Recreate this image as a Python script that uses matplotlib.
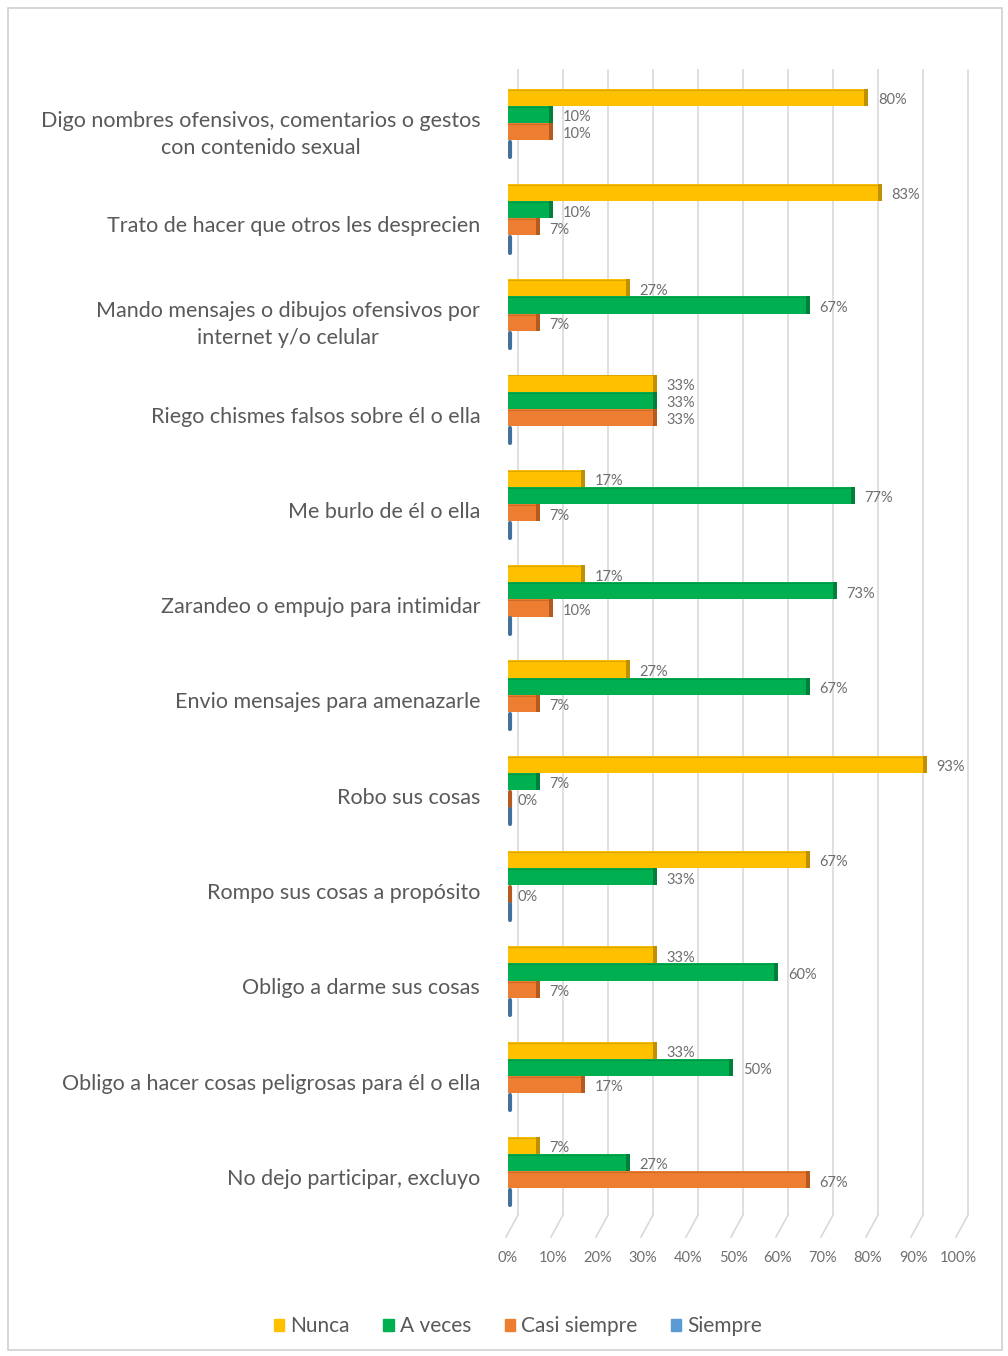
import matplotlib
matplotlib.use("Agg")
import matplotlib.pyplot as plt
import matplotlib.transforms as mtransforms
from matplotlib.patches import Rectangle
import numpy as np

categories = [
    "Digo nombres ofensivos, comentarios o gestos\ncon contenido sexual",
    "Trato de hacer que otros les desprecien",
    "Mando mensajes o dibujos ofensivos por\ninternet y/o celular",
    "Riego chismes falsos sobre él o ella",
    "Me burlo de él o ella",
    "Zarandeo o empujo para intimidar",
    "Envio mensajes para amenazarle",
    "Robo sus cosas",
    "Rompo sus cosas a propósito",
    "Obligo a darme sus cosas",
    "Obligo a hacer cosas peligrosas para él o ella",
    "No dejo participar, excluyo",
]
series_names = ["Nunca", "A veces", "Casi siempre", "Siempre"]
nunca = [80, 83, 27, 33, 17, 17, 27, 93, 67, 33, 33, 7]
a_veces = [10, 10, 67, 33, 77, 73, 67, 7, 33, 60, 50, 27]
casi_siempre = [10, 7, 7, 33, 7, 10, 7, 0, 0, 7, 17, 67]
siempre = [0, 0, 0, 0, 0, 0, 0, 0, 0, 0, 0, 0]
show_label = [True, True, True, False]
x_ticks = [0, 10, 20, 30, 40, 50, 60, 70, 80, 90, 100]

colors = ["#FFC000", "#00B050", "#ED7D31", "#5B9BD5"]
dark = ["#BF9000", "#00803A", "#B55A1E", "#41719C"]

plt.rcParams['font.family'] = ['Lato', 'DejaVu Sans']

W, H = 1008, 1356
fig = plt.figure(figsize=(W / 100, H / 100), dpi=100)
fig.patch.set_facecolor("white")
fig.patches.append(Rectangle((8 / W, 6 / H), 994 / W, 1342 / H, transform=fig.transFigure,
                             fill=False, edgecolor="#D0D0D0", linewidth=1.2))

ax_left, ax_right = 508, 958
ax_top, ax_bot = 70, 1215
ax = fig.add_axes([ax_left / W, 1 - ax_bot / H, (ax_right - ax_left) / W, (ax_bot - ax_top) / H])
ax.set_xlim(0, 100)
n = len(categories)
ax.set_ylim(11.46, -0.556)

bh = 0.18
data = [nunca, a_veces, casi_siempre, siempre]
y = np.arange(n)
cap = 0.8
for k, vals in enumerate(data):
    yy = y + (k - 1.5) * bh
    for yi, v in zip(yy, vals):
        if v > 0:
            ax.barh(yi, v, height=bh, color=colors[k], edgecolor="none", zorder=3)
            ax.barh(yi, cap, left=v - cap, height=bh, color=dark[k], edgecolor="none", zorder=4)
            ax.plot([0, v - cap], [yi - bh / 2 + 0.01, yi - bh / 2 + 0.01], color=dark[k],
                    lw=0.8, alpha=0.5, zorder=4)
        else:
            ax.plot([0.4, 0.4], [yi - bh / 2 + 0.02, yi + bh / 2], color=dark[k], lw=3,
                    solid_capstyle="round", zorder=4)
        if show_label[k]:
            ax.text(v + 2.2, yi + 0.03, f"{v}%", va="center", ha="left", fontsize=10.5,
                    color="#6E6E6E", zorder=5)

# 3D-like gridlines (back wall shifted right)
off = mtransforms.ScaledTranslation(10 / 100, 0, fig.dpi_scale_trans)
tr = ax.get_xaxis_transform() + off
for t in x_ticks:
    ax.plot([t, t], [0, 1], transform=tr, color="#D9D9D9", lw=1.2, zorder=1, clip_on=False)

fig.canvas.draw()
for t in x_ticks:
    px, py = ax.transData.transform((t, 11.46))
    line = plt.Line2D([px + 10, px - 2], [py, py - 22], transform=None, color="#D9D9D9", lw=1.2)
    fig.lines.append(line)

for s in ax.spines.values():
    s.set_visible(False)
ax.set_facecolor("none")

ax.set_xticks(x_ticks)
ax.set_xticklabels([f"{t}%" for t in x_ticks], fontsize=10.5, color="#6E6E6E")
ax.tick_params(axis="x", length=0, pad=26)
ax.set_yticks(y + 0.06)
ax.set_yticklabels(categories, fontsize=15.5, color="#595959", multialignment="center",
                   linespacing=1.45)
ax.tick_params(axis="y", length=0, pad=20)

handles = [Rectangle((0, 0), 1, 1, color=c) for c in colors]
fig.legend(handles, series_names, loc="center", bbox_to_anchor=(518 / W, 1 - 1326 / H),
           ncol=4, frameon=False, fontsize=15, handlelength=0.5, handleheight=0.5,
           handletextpad=0.3, columnspacing=1.6, labelcolor="#595959")

fig.savefig("out.png", dpi=100, facecolor="white")
